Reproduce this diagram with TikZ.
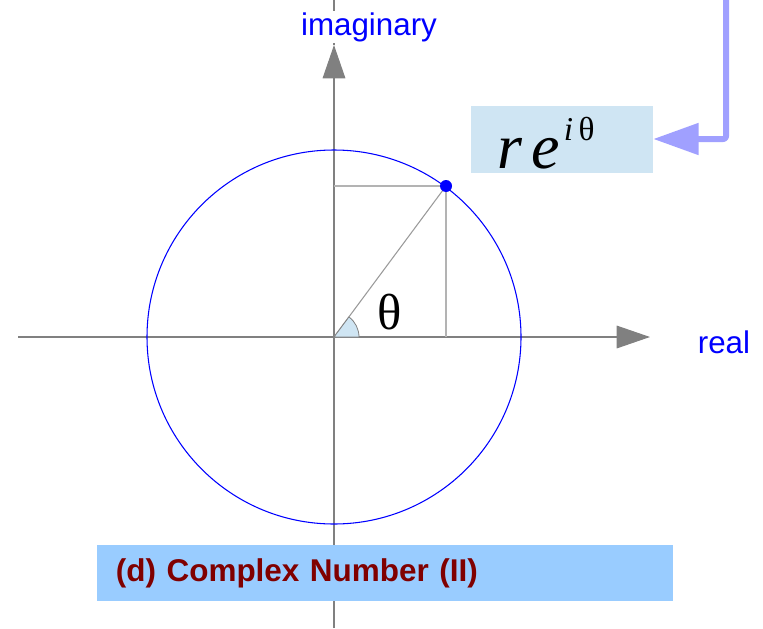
\documentclass[tikz,border=0pt]{standalone}
\usepackage{fontspec}
\setmainfont{Liberation Serif}
\newfontfamily\labelfont{Liberation Sans}
\usetikzlibrary{arrows.meta}
\definecolor{axisgray}{HTML}{808080}
\definecolor{guidegray}{HTML}{B3B3B3}
\definecolor{boxblue}{HTML}{CFE5F3}
\definecolor{titleblue}{HTML}{99CCFF}
\definecolor{titlered}{HTML}{800000}
\definecolor{feedblue}{HTML}{A0A0FF}
\begin{document}
\begin{tikzpicture}[x=0.75pt,y=-0.75pt,line join=round,
	axis/.style={axisgray,line width=0.8pt,-{Triangle[length=25pt,width=17pt]}},
	guide/.style={guidegray,line width=1.1pt},
	axislabel/.style={font=\labelfont\fontsize{23.5}{26}\selectfont,text=blue,inner sep=1pt},
	formulabox/.style={fill=boxblue,minimum width=136.5pt,minimum height=50.25pt,inner sep=0pt},
	titlebox/.style={fill=titleblue,minimum width=432pt,minimum height=42pt,inner xsep=14pt,text width=404pt,align=left,
		font=\labelfont\bfseries\fontsize{23.6}{26}\selectfont,text=titlered},
	feed/.style={feedblue,line width=4.5pt,rounded corners=2pt,-{Triangle[length=34pt,width=23pt]}}]
	\useasboundingbox (0,0) rectangle (763,628);
	\path
	(334,337) coordinate (O)
	(446,186) coordinate (P)
	(18,337) coordinate (xstart)
	(650,337) coordinate (xend)
	(334,628) coordinate (ystart)
	(334,45) coordinate (yend)
	(334,0) coordinate (ytop)
	(334,186) coordinate (Py)
	(446,337) coordinate (Px)
	(726,0) coordinate (src);
	\draw[axis] (xstart) -- (xend);
	\draw[axis] (ystart) -- (yend);
	\draw[axisgray,line width=0.8pt] (yend) -- (ytop);
	\draw[blue,line width=0.8pt] (O) circle[radius=140.25pt];
	\draw[guide] (Py) -- (P) -- (Px);
	\draw[axisgray!80,line width=0.8pt] (O) -- (P);
	\draw[axisgray,fill=boxblue,line width=0.6pt] (O) -- ++(0:18.75pt) arc[start angle=0,end angle=53.4,radius=18.75pt] -- cycle;
	\fill[blue] (P) circle (4.5pt);
	\node[font=\fontsize{38}{40}\selectfont] (theta) at (390,312) {θ};
	\node[axislabel,fill=white] (imag) at (369,27) {imaginary};
	\node[axislabel] (real) at (724,342) {real};
	\node[formulabox] (rei) at (562,139) {};
	\node[anchor=base west,inner sep=0pt] (reitext) at (497,168) {{\fontsize{48}{48}\selectfont\itshape r\kern7pt e}\kern3pt\raisebox{21pt}{\fontsize{25}{25}\selectfont\itshape i\kern4pt\upshape θ}};
	\draw[feed] (src) |- (rei.east);
	\node[titlebox,anchor=west] (title) at (97,573) {\raisebox{-1.5pt}{(d) Complex Number (II)}};
\end{tikzpicture}
\end{document}
